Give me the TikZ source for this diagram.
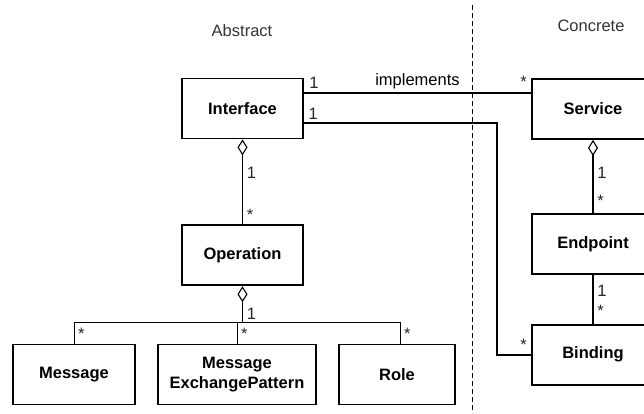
\documentclass[tikz,border=0pt]{standalone}
\usepackage{fontspec}
\setmainfont{Liberation Sans}
\usetikzlibrary{arrows.meta, positioning, calc}

\begin{document}
\begin{tikzpicture}[
  x=1pt, y=-1pt,
  font=\fontsize{16.5}{19.5}\selectfont,
  cls/.style={draw, line width=1.8pt, align=center, font=\fontsize{16.5}{19.5}\selectfont\bfseries, minimum width=121pt, minimum height=60pt, inner sep=0pt},
  conn/.style={line width=1.8pt},
  agg/.style={conn, {Diamond[open, length=16pt, width=10pt, line width=1.1pt]}-},
  mult/.style={inner sep=1.5pt, text=black!85},
  side/.style={text=black!80},
]
  \useasboundingbox (0,0) rectangle (644,413);

  \node[side] (abs) at (242,31) {Abstract};
  \node[side] (conc) at (591,26) {Concrete};
  \coordinate (divtop) at (472,5);
  \coordinate (divbot) at (472,413);
  \draw[dash pattern=on 5pt off 3pt, line width=0.6pt] (divtop) -- (divbot);

  \node[cls] (I) at (242.5,108.5) {Interface};
  \node[cls, below=85pt of I] (O) {Operation};
  \node[cls, minimum width=122pt] (Msg) at (74,374.5) {Message};
  \node[cls, minimum width=158pt] (MEP) at (237,374.5) {Message\\ExchangePattern};
  \node[cls, minimum width=116pt] (R) at (397,374.5) {Role};

  \node[cls, minimum width=122pt] (S) at (593,109) {Service};
  \node[cls, minimum width=122pt, below=73pt of S] (E) {Endpoint};
  \node[cls, minimum width=122pt, below=49pt of E] (B) {Binding};

  \draw[conn] ([yshift=15.5pt]I.east) -- ([yshift=15.5pt]I.east -| S.west)
    node[midway, above=0pt] {implements}
    node[pos=0, above right=2pt and 3pt, mult] {1}
    node[pos=1, above left=3pt and 2pt, mult] {*};

  \coordinate (bend) at (497,123);
  \draw[conn] ([yshift=-14.5pt]I.east) -- (bend) |- (B.west)
    node[pos=1, above left=2pt and 2pt, mult] {*};
  \node[mult, above right=2pt and 3pt] at ([yshift=-14.5pt]I.east) {1};

  \draw[agg] (I) -- (O)
    node[pos=.39, right=2pt, mult] {1}
    node[pos=.89, right=2pt, mult] {*};

  \coordinate (tree) at ($(O.south)+(0,-36pt)$);
  \draw[agg] (O) -- (tree)
    node[pos=.78, right=2pt, mult] {1};
  \draw[line width=0.6pt] (Msg.north) |- (tree) -| ([xshift=3pt]R.north);
  \draw[line width=0.6pt] (MEP.north) -- (MEP.north |- tree);
  \node[mult, below right=4.5pt and 2.5pt] at (Msg.north |- tree) {*};
  \node[mult, below right=4.5pt and 2.5pt] at (MEP.north |- tree) {*};
  \node[mult, below right=4.5pt and 2.5pt] at ([xshift=3pt]R.north |- tree) {*};

  \draw[agg] (S) -- (E)
    node[pos=.45, right=2pt, mult] {1}
    node[pos=.84, right=2pt, mult] {*};
  \draw[conn] (E) -- (B)
    node[pos=.33, right=2pt, mult] {1}
    node[pos=.745, right=2pt, mult] {*};
\end{tikzpicture}
\end{document}
